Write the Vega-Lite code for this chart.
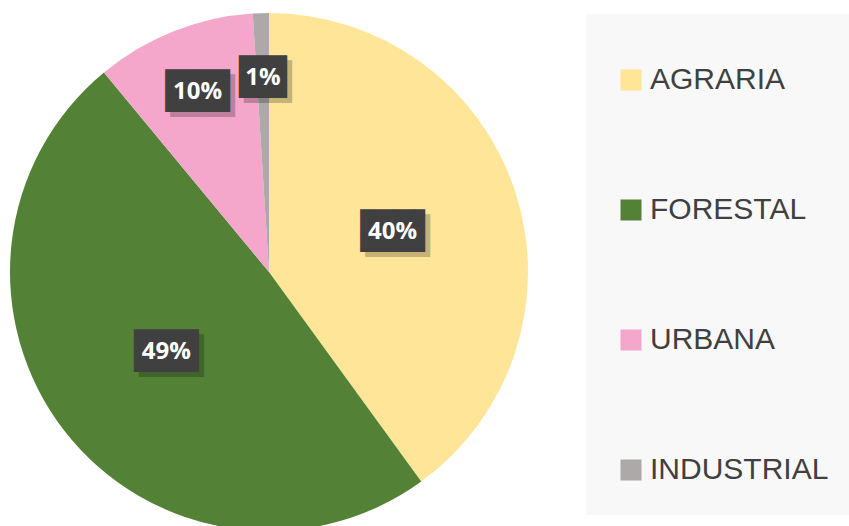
{
  "$schema": "https://vega.github.io/schema/vega-lite/v6.json",
  "width": 538,
  "height": 544,
  "autosize": {"type": "none"},
  "padding": {"left": 0, "top": 0, "right": 311, "bottom": -18},
  "background": "white",
  "data": {
    "values": [
      {"categoria": "AGRARIA", "valor": 40, "orden": 1, "etiqueta": "40%"},
      {"categoria": "FORESTAL", "valor": 49, "orden": 2, "etiqueta": "49%"},
      {"categoria": "URBANA", "valor": 10, "orden": 3, "etiqueta": "10%"},
      {"categoria": "INDUSTRIAL", "valor": 1, "orden": 4, "etiqueta": "1%"}
    ]
  },
  "encoding": {
    "theta": {"field": "valor", "type": "quantitative", "stack": true},
    "order": {"field": "orden", "type": "quantitative"}
  },
  "layer": [
    {
      "mark": {"type": "arc", "outerRadius": 259, "stroke": null},
      "encoding": {
        "color": {
          "field": "categoria",
          "type": "nominal",
          "scale": {
            "domain": ["AGRARIA", "FORESTAL", "URBANA", "INDUSTRIAL"],
            "range": ["#FFE597", "#538135", "#F4A7CB", "#ADA9A9"]
          },
          "legend": {
            "orient": "none",
            "legendX": 586,
            "legendY": 14,
            "direction": "vertical",
            "title": " ",
            "titleFontSize": 15,
            "titlePadding": 6,
            "fillColor": "#f8f8f8",
            "padding": 30,
            "symbolType": "square",
            "symbolSize": 441,
            "symbolStrokeWidth": 0,
            "symbolOpacity": 1,
            "labelFont": "Liberation Sans",
            "labelFontSize": 30,
            "labelColor": "#404040",
            "labelOffset": 4,
            "labelLimit": 400,
            "rowPadding": 100
          }
        }
      }
    },
    {
      "mark": {"type": "text", "radius": 130, "font": "DejaVu Sans Mono", "fontSize": 36, "color": "#000000", "dx": 5, "dy": 5, "baseline": "middle", "align": "center"},
      "encoding": {
        "text": {"value": "▐██▌"},
        "opacity": {"condition": {"test": "datum.valor >= 20", "value": 0.22}, "value": 0}
      }
    },
    {
      "mark": {"type": "text", "radius": 130, "font": "DejaVu Sans Mono", "fontSize": 36, "color": "#404040", "baseline": "middle", "align": "center"},
      "encoding": {
        "text": {"value": "▐██▌"},
        "opacity": {"condition": {"test": "datum.valor >= 20", "value": 1}, "value": 0}
      }
    },
    {
      "mark": {"type": "text", "radius": 130, "font": "Open Sans", "fontSize": 24, "fontWeight": "bold", "color": "#ffffff", "baseline": "middle", "align": "center"},
      "encoding": {
        "text": {"field": "etiqueta", "type": "nominal"},
        "opacity": {"condition": {"test": "datum.valor >= 20", "value": 1}, "value": 0}
      }
    },
    {
      "mark": {"type": "text", "radius": 194, "font": "DejaVu Sans Mono", "fontSize": 36, "color": "#000000", "dx": 5, "dy": 5, "baseline": "middle", "align": "center"},
      "encoding": {
        "text": {"condition": {"test": "datum.valor < 5", "value": "▕██▏"}, "value": "▐██▌"},
        "opacity": {"condition": {"test": "datum.valor < 20", "value": 0.22}, "value": 0}
      }
    },
    {
      "mark": {"type": "text", "radius": 194, "font": "DejaVu Sans Mono", "fontSize": 36, "color": "#404040", "baseline": "middle", "align": "center"},
      "encoding": {
        "text": {"condition": {"test": "datum.valor < 5", "value": "▕██▏"}, "value": "▐██▌"},
        "opacity": {"condition": {"test": "datum.valor < 20", "value": 1}, "value": 0}
      }
    },
    {
      "mark": {"type": "text", "radius": 194, "font": "Open Sans", "fontSize": 24, "fontWeight": "bold", "color": "#ffffff", "baseline": "middle", "align": "center"},
      "encoding": {
        "text": {"field": "etiqueta", "type": "nominal"},
        "opacity": {"condition": {"test": "datum.valor < 20", "value": 1}, "value": 0}
      }
    }
  ],
  "config": {"view": {"stroke": null}}
}
